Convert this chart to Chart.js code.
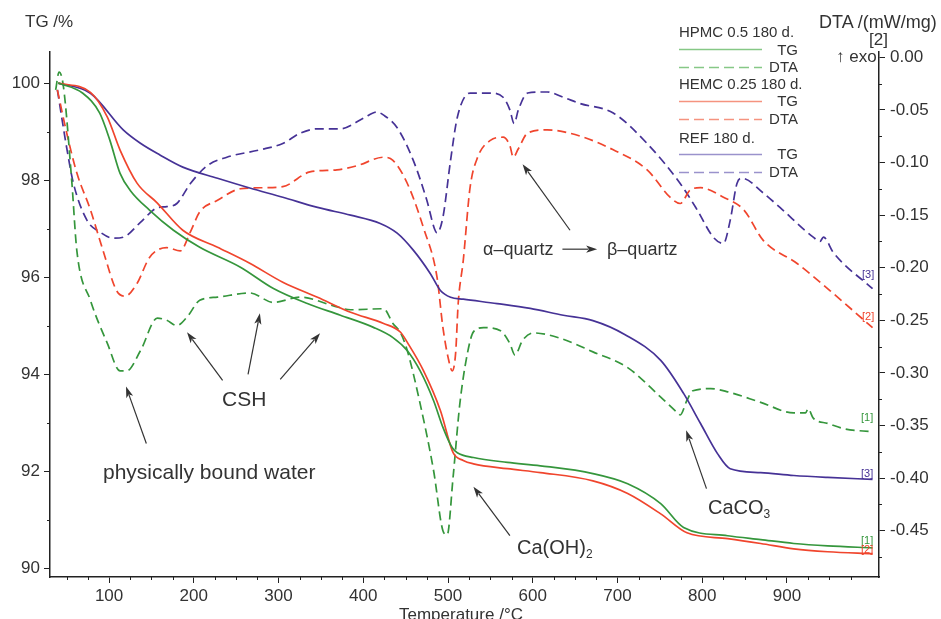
<!DOCTYPE html>
<html>
<head>
<meta charset="utf-8">
<script src="https://cdn.jsdelivr.net/npm/chart.js@4.4.1/dist/chart.umd.min.js"></script>
<style>
  body { margin: 0; background: #fff; }
  #wrap { position: relative; width: 941px; height: 619px; overflow: hidden; font-family: "Liberation Sans", Arial, sans-serif; color: #333; }
  #wrap span { position: absolute; line-height: 1; white-space: nowrap; }
  .t17 { font-size: 17px; }
  .lg { font-size: 15px; }
  .an { font-size: 20px; }
  .end { font-size: 11px; }
  sub { font-size: 12px; vertical-align: -4px; line-height: 0; }
</style>
</head>
<body>
<div id="wrap">
  <canvas id="chart" width="941" height="619"></canvas>

  <!-- titres des axes -->
  <span class="t17" style="left:25px;top:13px">TG /%</span>
  <span style="font-size:18px;left:819px;top:13px">DTA /(mW/mg)</span>
  <span class="t17" style="left:869px;top:31px">[2]</span>
  <span class="t17" style="left:836px;top:48px">↑ exo</span>
  <span class="t17" style="left:399px;top:606px">Temperature /°C</span>

  <!-- légende -->
  <span class="lg" style="left:679px;top:24px">HPMC 0.5 180 d.</span>
  <span class="lg" style="right:143px;top:42px">TG</span>
  <span class="lg" style="right:143px;top:59px">DTA</span>
  <span class="lg" style="left:679px;top:76px">HEMC 0.25 180 d.</span>
  <span class="lg" style="right:143px;top:93px">TG</span>
  <span class="lg" style="right:143px;top:111px">DTA</span>
  <span class="lg" style="left:679px;top:130px">REF 180 d.</span>
  <span class="lg" style="right:143px;top:146px">TG</span>
  <span class="lg" style="right:143px;top:164px">DTA</span>

  <!-- annotations -->
  <span style="font-size:18px;left:483px;top:240px">α–quartz</span>
  <span style="font-size:18px;left:607px;top:240px">β–quartz</span>
  <span style="font-size:21px;left:222px;top:388px">CSH</span>
  <span style="font-size:21px;left:103px;top:461px">physically bound water</span>
  <span class="an" style="left:517px;top:537px">Ca(OH)<sub>2</sub></span>
  <span class="an" style="left:708px;top:497px">CaCO<sub>3</sub></span>

  <!-- numéros en bout de courbe -->
  <span class="end" style="left:862px;top:269px;color:#463296">[3]</span>
  <span class="end" style="left:862px;top:311px;color:#f0452d">[2]</span>
  <span class="end" style="left:861px;top:412px;color:#35963c">[1]</span>
  <span class="end" style="left:861px;top:468px;color:#463296">[3]</span>
  <span class="end" style="left:861px;top:535px;color:#35963c">[1]</span>
  <span class="end" style="left:861px;top:544px;color:#f0452d">[2]</span>
</div>

<script>
// Température (°C) et TG (%) - HPMC 0.5
const hpmcTgTemp = [40, 69, 89, 101, 113, 125, 148, 176, 207, 255, 294, 334, 373, 412, 435, 452, 467, 483, 494, 505, 511, 530, 570, 609, 671, 712, 751, 778, 830, 869, 908, 948, 1001];
const hpmcTg = [100.0, 99.79, 99.38, 98.82, 98.14, 97.79, 97.38, 96.97, 96.62, 96.21, 95.77, 95.46, 95.22, 94.97, 94.76, 94.49, 94.08, 93.46, 92.91, 92.49, 92.39, 92.29, 92.19, 92.12, 91.96, 91.75, 91.34, 90.85, 90.68, 90.60, 90.52, 90.47, 90.43];

// HEMC 0.25
const hemcTgTemp = [40, 78, 98, 113, 133, 157, 187, 228, 266, 305, 346, 385, 424, 444, 452, 471, 491, 506, 518, 530, 570, 609, 671, 712, 751, 782, 830, 869, 908, 948, 1001];
const hemcTg = [100.0, 99.81, 99.30, 98.62, 97.94, 97.53, 96.97, 96.62, 96.29, 95.90, 95.59, 95.28, 95.05, 94.87, 94.66, 94.08, 93.26, 92.39, 92.23, 92.16, 92.06, 91.98, 91.81, 91.55, 91.13, 90.74, 90.62, 90.52, 90.41, 90.35, 90.31];

// REF
const refTgTemp = [40, 78, 117, 137, 160, 187, 228, 266, 305, 346, 385, 420, 440, 459, 479, 491, 503, 518, 558, 597, 636, 671, 709, 751, 778, 798, 818, 833, 869, 908, 948, 1001];
const refTg = [100.0, 99.79, 99.03, 98.76, 98.52, 98.27, 98.04, 97.84, 97.65, 97.44, 97.28, 97.11, 96.91, 96.56, 96.08, 95.73, 95.59, 95.55, 95.46, 95.36, 95.22, 95.11, 94.82, 94.29, 93.61, 92.99, 92.37, 92.06, 91.98, 91.92, 91.88, 91.84];

// DTA (mW/mg)
const hpmcDtaTemp = [37, 41, 46, 56, 62, 78, 98, 113, 121, 137, 157, 168, 180, 192, 207, 228, 266, 294, 326, 364, 385, 424, 435, 444, 452, 467, 483, 494, 499, 506, 514, 523, 530, 542, 562, 573, 579, 588, 601, 632, 671, 712, 751, 771, 774, 782, 789, 810, 830, 869, 908, 922, 925, 931, 948, 967, 1001];
const hpmcDta = [-0.031, -0.014, -0.027, -0.118, -0.184, -0.231, -0.272, -0.298, -0.298, -0.279, -0.248, -0.250, -0.255, -0.247, -0.231, -0.228, -0.224, -0.233, -0.228, -0.236, -0.240, -0.239, -0.253, -0.262, -0.279, -0.329, -0.393, -0.450, -0.454, -0.399, -0.329, -0.281, -0.261, -0.257, -0.260, -0.272, -0.283, -0.269, -0.262, -0.267, -0.280, -0.295, -0.323, -0.338, -0.340, -0.326, -0.317, -0.315, -0.318, -0.328, -0.338, -0.338, -0.334, -0.343, -0.348, -0.353, -0.356];

const hemcDtaTemp = [39, 50, 62, 78, 93, 109, 119, 133, 148, 168, 184, 196, 207, 228, 255, 282, 305, 337, 369, 393, 424, 435, 452, 471, 487, 494, 500, 505, 509, 512, 518, 526, 535, 550, 565, 573, 577, 583, 594, 617, 656, 695, 735, 762, 774, 786, 798, 825, 849, 872, 912, 951, 1001];
const hemcDta = [-0.031, -0.072, -0.110, -0.145, -0.184, -0.222, -0.227, -0.215, -0.190, -0.181, -0.184, -0.166, -0.147, -0.136, -0.125, -0.124, -0.123, -0.109, -0.107, -0.103, -0.095, -0.098, -0.120, -0.162, -0.209, -0.257, -0.285, -0.298, -0.281, -0.234, -0.193, -0.124, -0.095, -0.079, -0.076, -0.084, -0.095, -0.087, -0.072, -0.069, -0.075, -0.088, -0.107, -0.133, -0.139, -0.126, -0.124, -0.133, -0.145, -0.174, -0.196, -0.222, -0.257];

const refDtaTemp = [39, 50, 58, 74, 89, 105, 117, 137, 157, 168, 180, 196, 216, 239, 278, 305, 326, 346, 373, 400, 416, 424, 440, 459, 475, 484, 487, 494, 503, 511, 526, 550, 565, 573, 578, 583, 594, 617, 636, 656, 695, 735, 774, 794, 813, 825, 833, 841, 847, 872, 892, 931, 939, 943, 955, 1001];
const refDta = [-0.031, -0.086, -0.120, -0.155, -0.166, -0.172, -0.171, -0.157, -0.143, -0.142, -0.139, -0.120, -0.103, -0.095, -0.088, -0.082, -0.072, -0.068, -0.068, -0.058, -0.052, -0.055, -0.067, -0.098, -0.136, -0.163, -0.167, -0.152, -0.098, -0.057, -0.034, -0.034, -0.038, -0.050, -0.063, -0.050, -0.034, -0.033, -0.038, -0.044, -0.053, -0.082, -0.120, -0.145, -0.171, -0.177, -0.155, -0.120, -0.115, -0.129, -0.143, -0.171, -0.175, -0.171, -0.186, -0.220];

// graduations
const tempTicks = [100, 200, 300, 400, 500, 600, 700, 800, 900];
const tgTicks = [90, 92, 94, 96, 98, 100];
const dtaTicks = [0, -0.05, -0.10, -0.15, -0.20, -0.25, -0.30, -0.35, -0.40, -0.45];

const GREEN = '#35963c', RED = '#f0452d', BLUE = '#463296';

// flèches des annotations : [T queue, TG queue, T pointe, TG pointe]
const arrows = [
  [644, 96.97, 588, 98.33],
  [635, 96.58, 676, 96.58],
  [234, 93.88, 192, 94.87],
  [264, 94.00, 278, 95.26],
  [302, 93.90, 349, 94.85],
  [144, 92.58, 120, 93.75],
  [573, 90.68, 530, 91.69],
  [805, 91.65, 781, 92.85]
];

function toPoints(temps, vals) {
  return temps.map((t, i) => ({ x: t, y: vals[i] }));
}

function drawArrow(ctx, x1, y1, x2, y2) {
  const ang = Math.atan2(y2 - y1, x2 - x1);
  const len = 11, w = 3.6;
  ctx.beginPath();
  ctx.moveTo(x1, y1);
  ctx.lineTo(x2 - Math.cos(ang) * len * 0.8, y2 - Math.sin(ang) * len * 0.8);
  ctx.stroke();
  ctx.beginPath();
  ctx.moveTo(x2, y2);
  ctx.lineTo(x2 - Math.cos(ang) * len + Math.sin(ang) * w, y2 - Math.sin(ang) * len - Math.cos(ang) * w);
  ctx.lineTo(x2 - Math.cos(ang) * len * 0.75, y2 - Math.sin(ang) * len * 0.75);
  ctx.lineTo(x2 - Math.cos(ang) * len - Math.sin(ang) * w, y2 - Math.sin(ang) * len + Math.cos(ang) * w);
  ctx.closePath();
  ctx.fill();
}

const extras = {
  id: 'extras',
  afterDraw(chart) {
    const ctx = chart.ctx;
    const sx = chart.scales.x, sy = chart.scales.y, sy2 = chart.scales.y2;
    ctx.save();
    // petites graduations
    ctx.strokeStyle = '#222';
    ctx.lineWidth = 1;
    ctx.beginPath();
    for (let t = 50; t <= 1000; t += 25) {
      if (t % 100 === 0) continue;
      const px = Math.round(sx.getPixelForValue(t)) + 0.5;
      ctx.moveTo(px, sx.top); ctx.lineTo(px, sx.top + 3);
    }
    for (let v = 91; v <= 99; v += 2) {
      const py = Math.round(sy.getPixelForValue(v)) + 0.5;
      ctx.moveTo(sy.right, py); ctx.lineTo(sy.right - 3, py);
    }
    for (let k = 0; k < 10; k++) {
      const py = Math.round(sy2.getPixelForValue(-0.025 - k * 0.05)) + 0.5;
      ctx.moveTo(sy2.left, py); ctx.lineTo(sy2.left + 3, py);
    }
    ctx.stroke();

    // flèches
    ctx.strokeStyle = '#333';
    ctx.fillStyle = '#333';
    ctx.lineWidth = 1.2;
    arrows.forEach(a => drawArrow(ctx,
      sx.getPixelForValue(a[0]), sy.getPixelForValue(a[1]),
      sx.getPixelForValue(a[2]), sy.getPixelForValue(a[3])));

    // traits de la légende
    const legendLines = [
      ['#86c886', [], 49], ['#86c886', [10, 5], 67],
      ['#f5937f', [], 101], ['#f5937f', [10, 5], 119],
      ['#9a92cc', [], 154], ['#9a92cc', [10, 5], 172]
    ];
    ctx.lineWidth = 1.5;
    legendLines.forEach(l => {
      ctx.strokeStyle = l[0];
      ctx.setLineDash(l[1]);
      ctx.beginPath();
      ctx.moveTo(679, l[2] + 0.5); ctx.lineTo(762, l[2] + 0.5);
      ctx.stroke();
    });
    ctx.restore();
  }
};

Chart.defaults.font.family = '"Liberation Sans", Arial, sans-serif';
Chart.defaults.font.size = 17;
Chart.defaults.color = '#333';

const axisGrid = { drawOnChartArea: false, drawTicks: true, tickLength: 6, color: '#222', tickWidth: 1 };
const axisBorder = { display: true, color: '#222', width: 1.5 };

function line(label, temps, vals, color, dashed, axis) {
  return {
    label: label,
    data: toPoints(temps, vals),
    borderColor: color,
    borderDash: dashed ? [9, 5] : [],
    yAxisID: axis,
    fill: false
  };
}

new Chart(document.getElementById('chart'), {
  type: 'line',
  data: {
    datasets: [
      line('HPMC TG', hpmcTgTemp, hpmcTg, GREEN, false, 'y'),
      line('HEMC TG', hemcTgTemp, hemcTg, RED, false, 'y'),
      line('REF TG', refTgTemp, refTg, BLUE, false, 'y'),
      line('HPMC DTA', hpmcDtaTemp, hpmcDta, GREEN, true, 'y2'),
      line('HEMC DTA', hemcDtaTemp, hemcDta, RED, true, 'y2'),
      line('REF DTA', refDtaTemp, refDta, BLUE, true, 'y2')
    ]
  },
  options: {
    responsive: false,
    animation: false,
    devicePixelRatio: 1,
    layout: { padding: { top: 52, left: 0, right: 0, bottom: 0 } },
    elements: {
      point: { radius: 0 },
      line: { borderWidth: 1.7, cubicInterpolationMode: 'monotone' }
    },
    plugins: { legend: { display: false }, tooltip: { enabled: false } },
    scales: {
      x: {
        type: 'linear', min: 30.3, max: 1008.6,
        afterBuildTicks: s => { s.ticks = tempTicks.map(v => ({ value: v })); },
        afterFit: s => { s.height = 42; },
        ticks: { autoSkip: false, maxRotation: 0, padding: 3 },
        grid: axisGrid, border: axisBorder
      },
      y: {
        position: 'left', min: 89.83, max: 100.64,
        afterBuildTicks: s => { s.ticks = tgTicks.map(v => ({ value: v })); },
        afterFit: s => { s.width = 50; },
        ticks: { autoSkip: false, padding: 4 },
        grid: axisGrid, border: axisBorder
      },
      y2: {
        position: 'right', min: -0.494, max: 0.005,
        afterBuildTicks: s => { s.ticks = dtaTicks.map(v => ({ value: v })); },
        afterFit: s => { s.width = 62; },
        ticks: { autoSkip: false, padding: 5, callback: v => v.toFixed(2) },
        grid: axisGrid, border: axisBorder
      }
    }
  },
  plugins: [extras]
});
</script>
</body>
</html>
